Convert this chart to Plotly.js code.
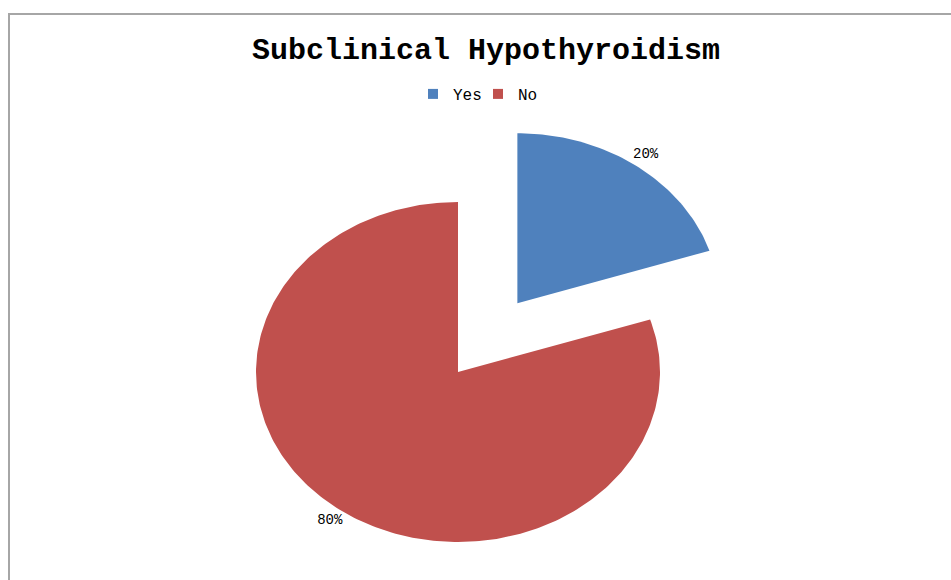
<!DOCTYPE html>
<html>
<head>
<meta charset="utf-8">
<script src="https://cdn.plot.ly/plotly-3.0.1.min.js"></script>
<style>
  html, body { margin: 0; padding: 0; background: #fff; }
  #chart { width: 951px; height: 580px; }
</style>
</head>
<body>
<div id="chart"></div>
<script>
// ---- data ----
const categories = ["Yes", "No"];
const values = [20, 80];
const labelTexts = ["20%", "80%"];
const colors = ["#4F81BD", "#C0504D"];
const pulls = [0.5, 0];

// ---- build elliptical pie (unit circle in data space, axes scaled to ellipse) ----
const total = values.reduce((a, b) => a + b, 0);
const traces = [];
const labelX = [], labelY = [];
let start = 0;
const labelR = 1.08;
values.forEach((v, i) => {
  const span = v / total * 2 * Math.PI;
  const end = start + span;
  const mid = (start + end) / 2;
  const ox = pulls[i] * Math.sin(mid);
  const oy = pulls[i] * Math.cos(mid);
  const xs = [ox], ys = [oy];
  const steps = Math.max(8, Math.ceil(span / (Math.PI / 180)));
  for (let k = 0; k <= steps; k++) {
    const a = start + span * k / steps;
    xs.push(ox + Math.sin(a));
    ys.push(oy + Math.cos(a));
  }
  xs.push(ox); ys.push(oy);
  traces.push({
    type: "scatter", mode: "lines", x: xs, y: ys,
    fill: "toself", fillcolor: colors[i],
    line: { width: 0, color: colors[i] },
    name: categories[i], showlegend: false, hoverinfo: "name"
  });
  labelX.push(ox + labelR * Math.sin(mid));
  labelY.push(oy + labelR * Math.cos(mid));
  start = end;
});

// legend entries
categories.forEach((c, i) => {
  traces.push({
    type: "scatter", mode: "markers", x: [null], y: [null],
    name: c, marker: { symbol: "square", size: 10, color: colors[i] },
    showlegend: true
  });
});

// data labels
traces.push({
  type: "scatter", mode: "text", x: labelX, y: labelY, text: labelTexts,
  textposition: "middle center",
  textfont: { family: "Liberation Mono, DejaVu Sans Mono, monospace", size: 14, color: "#000" },
  showlegend: false, hoverinfo: "skip"
});

const W = 951, H = 580, cxp = 458, cyp = 372, rx = 202, ry = 170;

const layout = {
  width: W, height: H,
  margin: { l: 0, r: 0, t: 0, b: 0 },
  paper_bgcolor: "#fff", plot_bgcolor: "#fff",
  title: {
    text: "<b>Subclinical Hypothyroidism</b>",
    x: 486 / W, xanchor: "center", xref: "container",
    y: 1 - 48 / H, yanchor: "middle", yref: "container",
    font: { family: "Liberation Mono, Courier New, monospace", size: 30, color: "#000" }
  },
  xaxis: { visible: false, range: [-cxp / rx, (W - cxp) / rx], fixedrange: true },
  yaxis: { visible: false, range: [-(H - cyp) / ry, cyp / ry], fixedrange: true },
  showlegend: true,
  legend: {
    orientation: "h", x: 478 / W, xanchor: "center", y: 1 - 94 / H, yanchor: "middle",
    font: { family: "Liberation Mono, Courier New, monospace", size: 16, color: "#000" },
    itemwidth: 30, entrywidth: 20, entrywidthmode: "pixels",
    traceorder: "normal", bgcolor: "rgba(0,0,0,0)"
  },
  shapes: [{
    type: "rect", xref: "paper", yref: "paper",
    x0: 9 / W, x1: 1.05, y0: -0.05, y1: 1 - 14 / H,
    line: { color: "#A6A6A6", width: 2 }, fillcolor: "rgba(0,0,0,0)", layer: "below"
  }]
};

Plotly.newPlot("chart", traces, layout, { displayModeBar: false, staticPlot: true });
</script>
</body>
</html>
